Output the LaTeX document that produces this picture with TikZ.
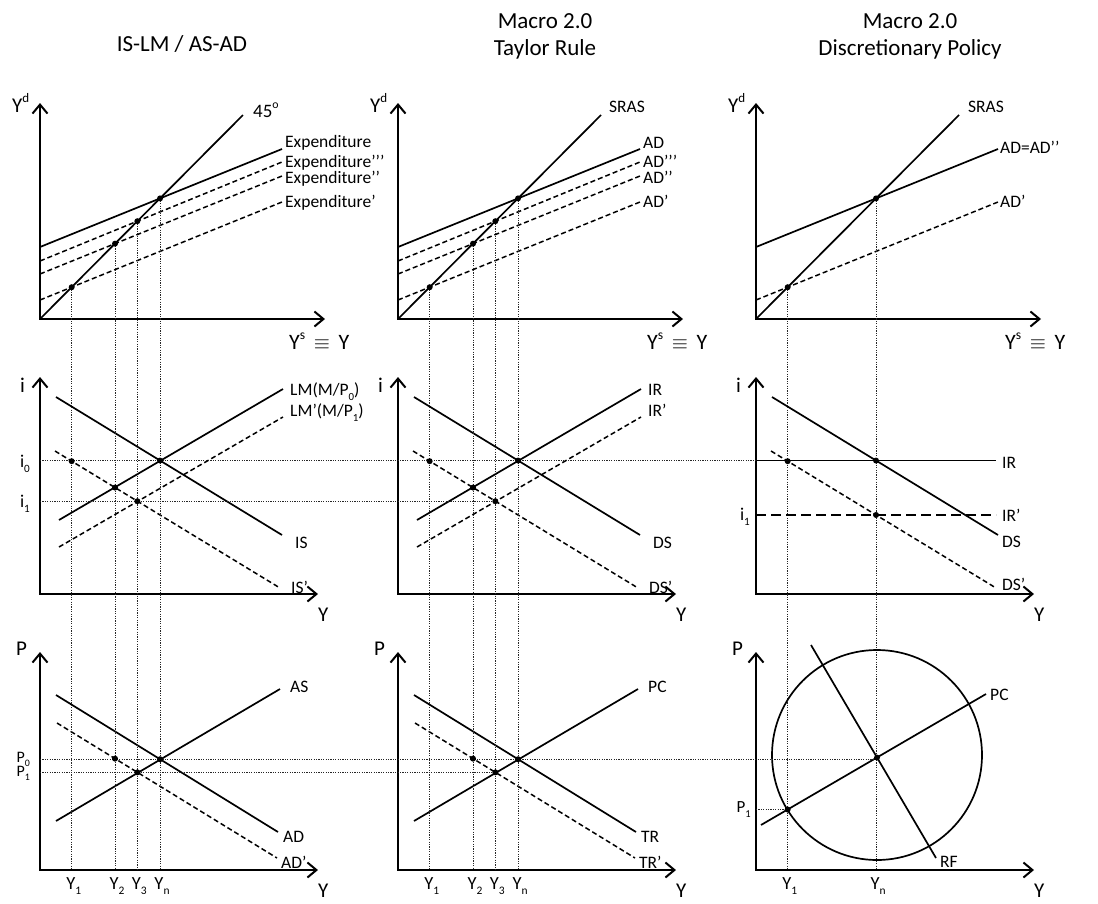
\documentclass[tikz,border=0pt]{standalone}
\usepackage{fontspec}
\usepackage{graphicx}
\setmainfont{Carlito}
\usetikzlibrary{arrows.meta}

\newcommand{\lo}[1]{\raisebox{-0.3em}{\scalebox{0.62}{#1}}}
\newcommand{\hi}[1]{\raisebox{0.45em}{\scalebox{0.62}{#1}}}

\tikzset{
  axis/.style={line width=2pt, {Straight Barb[length=9pt,width=15pt]}-{Straight Barb[length=9pt,width=15pt]}},
  curve/.style={line width=1.7pt},
  shifted/.style={line width=1.5pt, dash pattern=on 5pt off 3pt},
  guide/.style={line width=0.8pt, black!85, dash pattern=on 1.2pt off 1.2pt},
  eqdot/.style={circle, fill, inner sep=0pt, minimum size=6pt},
  title/.style={font=\fontsize{23}{27}\selectfont, anchor=base},
  axlbl/.style={font=\fontsize{21}{24}\selectfont, anchor=base west, inner sep=0pt},
  tick/.style={font=\fontsize{18.5}{21}\selectfont, anchor=base, inner sep=0pt},
  level/.style={font=\fontsize{18}{21}\selectfont, anchor=base east, inner sep=0pt},
  lbl/.style={font=\fontsize{17.5}{20}\selectfont, anchor=base west, inner sep=0pt}
}

\begin{document}
\begin{tikzpicture}[x=1pt, y=-1pt]
\useasboundingbox (0,0) rectangle (1098,903);

% Titles
\node[title] (ttl1) at (182,51) {IS-LM / AS-AD};
\node[title] (ttl2a) at (545,28) {Macro 2.0};
\node[title] (ttl2b) at (545,55) {Taylor Rule};
\node[title] (ttl3a) at (910,28) {Macro 2.0};
\node[title] (ttl3b) at (910,55) {Discretionary Policy};

% First two columns share the geometry
\foreach \dx/\c in {0/a, 358/b}{
  \begin{scope}[xshift=\dx]
    % Goods market
    \coordinate (\c o1) at (40,319);
    \coordinate (\c k) at (243,115);
    \coordinate (\c el0) at (40,247); \coordinate (\c er0) at (282,149);
    \coordinate (\c el3) at (40,261); \coordinate (\c er3) at (282,162);
    \coordinate (\c el2) at (40,274); \coordinate (\c er2) at (282,176);
    \coordinate (\c el1) at (40,300); \coordinate (\c er1) at (282,202);
    \draw[axis] (40,103) -- (\c o1) -- (325,319);
    \draw[curve] (\c o1) -- (\c k);
    \draw[curve] (\c el0) -- (\c er0);
    \foreach \n in {1,2,3} \draw[shifted] (\c el\n) -- (\c er\n);
    \foreach \n in {0,...,3}
      \coordinate (\c q\n) at (intersection of \c o1--\c k and \c el\n--\c er\n);

    % Money market
    \coordinate (\c o2) at (40,594);
    \coordinate (\c isl) at (56,397); \coordinate (\c isr) at (282,535);
    \coordinate (\c jsl) at (55,451); \coordinate (\c jsr) at (280,588);
    \coordinate (\c lml) at (59,520); \coordinate (\c lmr) at (283,389);
    \coordinate (\c mml) at (59,547); \coordinate (\c mmr) at (283,417);
    \draw[axis] (40,377) -- (\c o2) -- (318,594);
    \draw[curve] (\c isl) -- (\c isr);
    \draw[shifted] (\c jsl) -- (\c jsr);
    \draw[curve] (\c lml) -- (\c lmr);
    \draw[shifted] (\c mml) -- (\c mmr);

    % Price level
    \coordinate (\c o3) at (40,870);
    \coordinate (\c adl) at (56,695); \coordinate (\c adr) at (278,832);
    \coordinate (\c bdl) at (57,723); \coordinate (\c bdr) at (277,858);
    \coordinate (\c asl) at (56,821); \coordinate (\c asr) at (280,689);
    \draw[axis] (40,652) -- (\c o3) -- (318,870);
    \draw[curve] (\c adl) -- (\c adr);
    \draw[shifted] (\c bdl) -- (\c bdr);
    \draw[curve] (\c asl) -- (\c asr);

    % Output levels down to the bottom axis
    \foreach \n in {0,...,3}{
      \coordinate (\c v\n) at (\c q\n |- \c o3);
      \draw[guide] (\c q\n) -- (\c v\n);
    }
    \coordinate (\c r0) at (intersection of \c isl--\c isr and \c q0--\c v0);
    \coordinate (\c r1) at (intersection of \c jsl--\c jsr and \c q1--\c v1);
    \coordinate (\c r2) at (intersection of \c jsl--\c jsr and \c q2--\c v2);
    \coordinate (\c r3) at (intersection of \c jsl--\c jsr and \c q3--\c v3);
    \coordinate (\c s0) at (intersection of \c adl--\c adr and \c q0--\c v0);
    \coordinate (\c s2) at (intersection of \c bdl--\c bdr and \c q2--\c v2);
    \coordinate (\c s3) at (intersection of \c bdl--\c bdr and \c q3--\c v3);

    % Axis names
    \node[axlbl] (\c yd) at (12,112) {Y\hi{d}};
    \node[axlbl, font=\fontsize{22}{24}\selectfont] (\c ys) at (289,349) {Y\hi{s} \,$\equiv$\, Y};
    \node[axlbl] (\c ai) at (20,392) {i};
    \node[axlbl] (\c ay) at (318,621) {Y};
    \node[axlbl] (\c ap) at (16,655) {P};
    \node[axlbl] (\c by) at (318,897) {Y};
    \node[tick] (\c t1) at ([shift={(2,19)}]\c v1) {Y\lo{1}};
    \node[tick] (\c t2) at ([shift={(2,19)}]\c v2) {Y\lo{2}};
    \node[tick] (\c t3) at ([shift={(2,19)}]\c v3) {Y\lo{3}};
    \node[tick] (\c tn) at ([shift={(2,19)}]\c v0) {Y\lo{n}};
  \end{scope}
}

% Discretionary policy column
\begin{scope}[xshift=716]
  \coordinate (co1) at (40,319);
  \coordinate (ck) at (243,115);
  \coordinate (cel0) at (40,247); \coordinate (cer0) at (282,149);
  \coordinate (cel1) at (40,300); \coordinate (cer1) at (282,202);
  \draw[axis] (40,103) -- (co1) -- (325,319);
  \draw[curve] (co1) -- (ck);
  \draw[curve] (cel0) -- (cer0);
  \draw[shifted] (cel1) -- (cer1);
  \coordinate (cq0) at (intersection of co1--ck and cel0--cer0);
  \coordinate (cq1) at (intersection of co1--ck and cel1--cer1);

  \coordinate (co2) at (40,594);
  \coordinate (cisl) at (56,397); \coordinate (cisr) at (282,535);
  \coordinate (cjsl) at (55,451); \coordinate (cjsr) at (280,588);
  \coordinate (cirx) at (280,0);
  \draw[axis] (40,377) -- (co2) -- (318,594);
  \draw[curve] (cisl) -- (cisr);
  \draw[shifted] (cjsl) -- (cjsr);

  \coordinate (co3) at (40,870);
  \coordinate (cv0) at (cq0 |- co3);
  \coordinate (cv1) at (cq1 |- co3);
  \draw[guide] (cq0) -- (cv0);
  \draw[guide] (cq1) -- (cv1);
  \coordinate (cr0) at (intersection of cisl--cisr and cq0--cv0);
  \coordinate (cr1) at (intersection of cjsl--cjsr and cq1--cv1);
  \coordinate (cr3) at (intersection of cjsl--cjsr and cq0--cv0);
  \draw[curve] (co2 |- cr0) -- (cr0 -| cirx);
  \draw[line width=1.5pt, dash pattern=on 10pt off 5pt] (co2 |- cr3) -- (cr3 -| cirx);

  \coordinate (cmid) at (161,755);
  \coordinate (cpcl) at (45,825); \coordinate (cpcr) at (270,694);
  \coordinate (crfl) at (95,645); \coordinate (crfr) at (220,858);
  \draw[axis] (40,652) -- (co3) -- (318,870);
  \draw[curve] (cmid) circle[radius=105pt];
  \draw[curve] (cpcl) -- (cpcr);
  \draw[curve] (crfl) -- (crfr);
  \coordinate (cs0) at (intersection of cpcl--cpcr and crfl--crfr);
  \coordinate (cs1) at (intersection of cpcl--cpcr and cq1--cv1);
  \draw[guide] (co3 |- cs1) -- (cs1);

  \node[axlbl] (cyd) at (12,112) {Y\hi{d}};
  \node[axlbl, font=\fontsize{22}{24}\selectfont] (cys) at (289,349) {Y\hi{s} \,$\equiv$\, Y};
  \node[axlbl] (cai) at (20,392) {i};
  \node[axlbl] (cay) at (318,621) {Y};
  \node[axlbl] (cap) at (16,655) {P};
  \node[axlbl] (cby) at (318,897) {Y};
  \node[tick] (ct1) at ([shift={(2,19)}]cv1) {Y\lo{1}};
  \node[tick] (ctn) at ([shift={(2,19)}]cv0) {Y\lo{n}};
\end{scope}

% Interest rate and price levels across the columns
\draw[guide] (ao2 |- ar0) -- (co2 |- ar0);
\draw[guide] (ao2 |- ar3) -- (br3);
\draw[guide] (ao3 |- as0) -- (as0 -| cs0);
\draw[guide] (ao3 |- as3) -- (bs3);

% Equilibrium points
\foreach \p in {q0,q1,q2,q3,r0,r1,r2,r3,s0,s2,s3}{
  \node[eqdot] (adot\p) at (a\p) {};
  \node[eqdot] (bdot\p) at (b\p) {};
}
\foreach \p in {q0,q1,r0,r1,r3,s0,s1}
  \node[eqdot] (cdot\p) at (c\p) {};

% Level labels
\node[level] (li0) at (30,467) {i\lo{0}};
\node[level] (li1) at (30,507) {i\lo{1}};
\node[level, font=\fontsize{16}{18}\selectfont] (lp0) at (30,762) {P\lo{0}};
\node[level, font=\fontsize{16}{18}\selectfont] (lp1) at (30,776) {P\lo{1}};
\node[level] (li1c) at (750,520) {i\lo{1}};
\node[level, font=\fontsize{17}{18}\selectfont] (lp1c) at (751,812) {P\lo{1}};

% Curve names, IS-LM / AS-AD
\node[lbl, font=\fontsize{19}{20}\selectfont] (l45) at (253,117) {45\hi{o}};
\node[lbl] (lex0) at (285,147) {Expenditure};
\node[lbl] (lex3) at (285,167) {Expenditure’’’};
\node[lbl] (lex2) at (285,183) {Expenditure’’};
\node[lbl] (lex1) at (285,207) {Expenditure’};
\node[lbl] (llm) at (290,395) {LM(M/P\lo{0})};
\node[lbl] (llm1) at (290,416) {LM'(M/P\lo{1})};
\node[lbl] (lis) at (295,548) {IS};
\node[lbl] (lis1) at (291,593) {IS’};
\node[lbl] (las) at (290,692) {AS};
\node[lbl] (lad) at (283,842) {AD};
\node[lbl] (lad1) at (281,868) {AD’};

% Curve names, Taylor rule
\node[lbl] (msr) at (609,112) {SRAS};
\node[lbl] (mad0) at (643,148) {AD};
\node[lbl] (mad3) at (643,167) {AD’’’};
\node[lbl] (mad2) at (643,183) {AD’’};
\node[lbl] (mad1) at (643,207) {AD’};
\node[lbl] (mir) at (648,395) {IR};
\node[lbl] (mir1) at (648,416) {IR’};
\node[lbl] (mds) at (653,548) {DS};
\node[lbl] (mds1) at (649,593) {DS’};
\node[lbl] (mpc) at (648,692) {PC};
\node[lbl] (mtr) at (641,842) {TR};
\node[lbl] (mtr1) at (639,868) {TR’};

% Curve names, discretionary policy
\node[lbl] (dsr) at (968,112) {SRAS};
\node[lbl] (dad0) at (1000,153) {AD=AD’’};
\node[lbl] (dad1) at (1000,207) {AD’};
\node[lbl] (dir) at (1002,468) {IR};
\node[lbl] (dir1) at (1002,521) {IR’};
\node[lbl] (dds) at (1002,547) {DS};
\node[lbl] (dds1) at (1002,590) {DS’};
\node[lbl] (dpc) at (990,700) {PC};
\node[lbl] (drf) at (940,867) {RF};
\end{tikzpicture}
\end{document}
